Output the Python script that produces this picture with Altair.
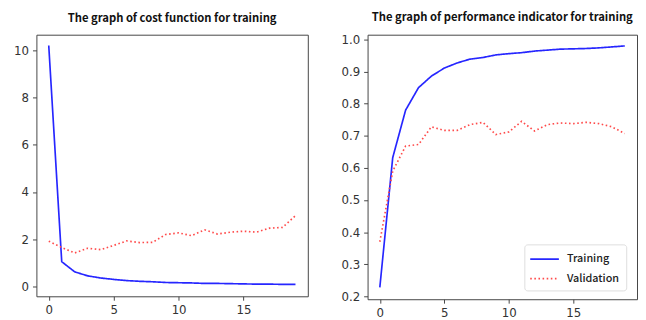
import altair as alt
import pandas as pd

epochs = list(range(20))
cost_train = [10.2, 1.05, 0.62, 0.45, 0.36, 0.30, 0.25, 0.22, 0.20, 0.17,
              0.16, 0.15, 0.13, 0.13, 0.12, 0.11, 0.10, 0.10, 0.09, 0.09]
cost_val = [1.92, 1.65, 1.42, 1.62, 1.56, 1.74, 1.93, 1.86, 1.87, 2.20,
            2.27, 2.15, 2.40, 2.22, 2.30, 2.34, 2.30, 2.47, 2.50, 3.00]
acc_train = [0.228, 0.632, 0.780, 0.850, 0.886, 0.911, 0.927, 0.939, 0.944, 0.952,
             0.956, 0.959, 0.964, 0.967, 0.970, 0.971, 0.972, 0.974, 0.977, 0.980]
acc_val = [0.370, 0.590, 0.668, 0.673, 0.728, 0.717, 0.717, 0.735, 0.742, 0.704,
           0.712, 0.745, 0.715, 0.735, 0.740, 0.738, 0.742, 0.738, 0.728, 0.707]
series = ["Training", "Validation"]
titles = ["The graph of cost function for training",
          "The graph of performance indicator for training"]

cost_df = pd.DataFrame({
    "epoch": epochs * 2,
    "value": cost_train + cost_val,
    "series": [series[0]] * 20 + [series[1]] * 20,
})
acc_df = pd.DataFrame({
    "epoch": epochs * 2,
    "value": acc_train + acc_val,
    "series": [series[0]] * 20 + [series[1]] * 20,
})

TFONT = "Noto Sans CJK KR"
AFONT = "DejaVu Sans"
colors = ["#2626ff", "#ff4a4a"]
dashes = [[1, 0], [1.6, 2.6]]

xenc = alt.X("epoch:Q", scale=alt.Scale(domain=[-0.95, 19.95], nice=False, zero=False),
             axis=alt.Axis(values=[0, 5, 10, 15], title=None, labelPadding=5))

left = alt.Chart(cost_df, title=alt.Title(titles[0])).mark_line(strokeWidth=1.7).encode(
    x=xenc,
    y=alt.Y("value:Q", scale=alt.Scale(domain=[-0.415, 10.66], nice=False, zero=False),
            axis=alt.Axis(values=[0, 2, 4, 6, 8, 10], title=None)),
    color=alt.Color("series:N", scale=alt.Scale(domain=series, range=colors), legend=None),
    strokeDash=alt.StrokeDash("series:N", scale=alt.Scale(domain=series, range=dashes), legend=None),
).properties(width=277, height=267)

legend = alt.Legend(
    title=None, orient="none", legendX=160, legendY=214,
    symbolType="M-1.2,0L2.7,0", symbolSize=225, symbolStrokeWidth=1.8,
    labelFont=TFONT, labelFontSize=11, labelFontWeight=500, labelColor="#222",
    labelOffset=20, rowPadding=6, padding=6.5,
    strokeColor="#dddddd", fillColor="white", cornerRadius=3,
)

right = alt.Chart(acc_df, title=alt.Title(titles[1])).mark_line(strokeWidth=1.7).encode(
    x=xenc,
    y=alt.Y("value:Q", scale=alt.Scale(domain=[0.191, 1.015], nice=False, zero=False),
            axis=alt.Axis(values=[0.2, 0.3, 0.4, 0.5, 0.6, 0.7, 0.8, 0.9, 1.0],
                          format=".1f", title=None)),
    color=alt.Color("series:N", scale=alt.Scale(domain=series, range=colors), legend=legend),
    strokeDash=alt.StrokeDash("series:N", scale=alt.Scale(domain=series, range=dashes), legend=legend),
).properties(width=275, height=270)

chart = alt.hconcat(left, right, spacing=32).resolve_scale(
    color="independent", strokeDash="independent"
).resolve_legend(color="independent", strokeDash="independent").configure(
    padding={"left": 5, "top": 0, "right": 0, "bottom": 0},
).configure_view(
    stroke="#444444", strokeWidth=1
).configure_axis(
    grid=False, domain=False, tickColor="#444444", tickSize=4,
    labelFont=AFONT, labelFontSize=12, labelColor="#333333", labelPadding=4,
).configure_title(
    font=TFONT, fontSize=11.5, fontWeight="bold", color="#111111", anchor="middle", offset=10,
)

chart.save("out.html", embed_options={"renderer": "svg", "actions": False})
